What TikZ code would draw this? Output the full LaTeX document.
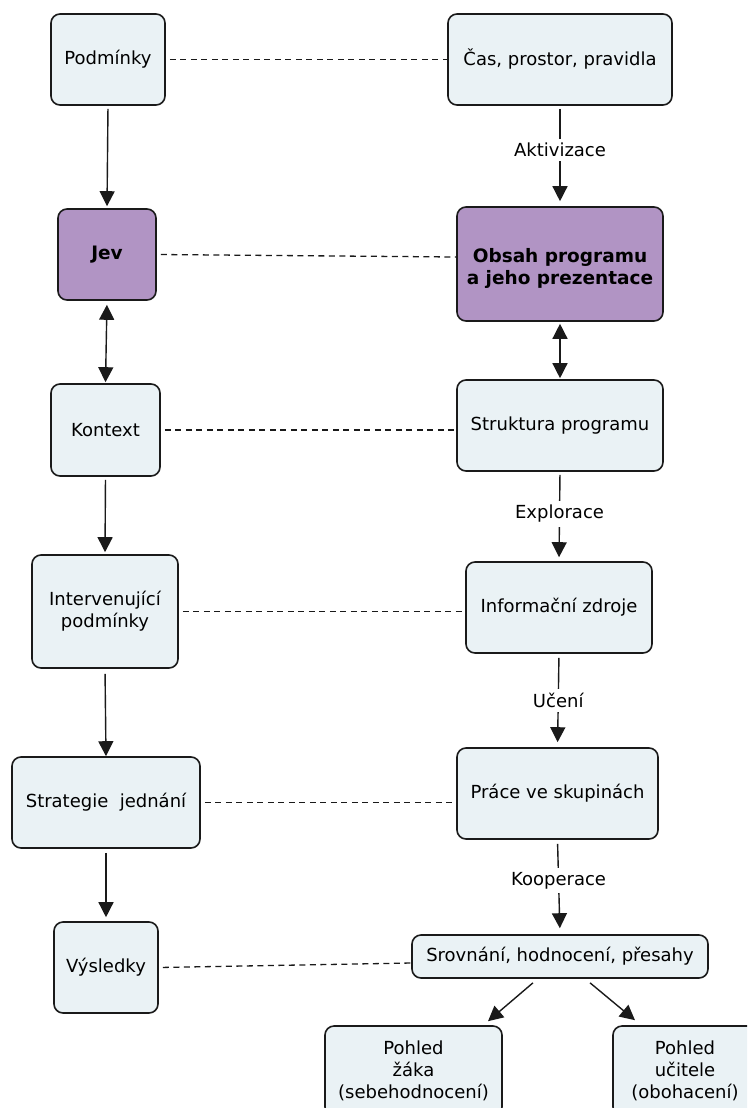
\documentclass[tikz,border=0pt]{standalone}
\usepackage{fontspec}
\setmainfont{DejaVu Sans}
\usetikzlibrary{arrows.meta}
\definecolor{boxfill}{HTML}{EAF2F5}
\definecolor{purp}{HTML}{B194C4}
\definecolor{edge}{HTML}{1A1A1A}
\tikzset{
 box/.style={draw=edge, line width=1.6pt, rounded corners=9pt, fill=boxfill, align=center, inner sep=0pt, font=\fontsize{18}{22}\selectfont},
 hot/.style={box, fill=purp, font=\fontsize{18.5}{22}\selectfont\bfseries},
 arr/.style={-{Triangle[width=15pt,length=15pt]}, line width=1.4pt, draw=edge},
 darr/.style={{Triangle[width=15pt,length=15pt]}-{Triangle[width=15pt,length=15pt]}, line width=1.4pt, draw=edge},
 dline/.style={dash pattern=on 6pt off 4.5pt, line width=1.3pt, draw=edge},
 lbl/.style={fill=white, inner sep=4pt, font=\fontsize{18}{22}\selectfont},
}
\begin{document}
\begin{tikzpicture}[x=1pt,y=-1pt]
\useasboundingbox (0,0) rectangle (747,1108);
\clip (0,0) rectangle (747,1108);
\node[box,minimum width=114pt,minimum height=91pt] (podm) at (108,59.5) {Podmínky};
\node[box,minimum width=224pt,minimum height=91pt] (cas) at (560,59.5) {Čas, prostor, pravidla};
\node[hot,minimum width=98pt,minimum height=91pt] (jev) at (107,254.5) {Jev};
\node[hot,minimum width=206pt,minimum height=114pt,
      label={[align=center,inner sep=0pt,yshift=-4pt,font=\fontsize{18.5}{22}\selectfont\bfseries]center:Obsah programu\\a jeho prezentace}] (obsah) at (560,264) {};
\node[box,minimum width=109pt,minimum height=92pt] (kont) at (105.5,430) {Kontext};
\node[box,minimum width=206pt,minimum height=91pt] (strukt) at (560,425.5) {Struktura programu};
\node[box,minimum width=146pt,minimum height=113pt] (interv) at (105,611.5) {Intervenující\\podmínky};
\node[box,minimum width=186pt,minimum height=91pt] (info) at (559,607.5) {Informační zdroje};
\node[box,minimum width=188pt,minimum height=91pt] (strat) at (106,802.5) {Strategie\ \ jednání};
\node[box,minimum width=201pt,minimum height=91pt] (prace) at (557.5,793.5) {Práce ve skupinách};
\node[box,minimum width=104pt,minimum height=91pt] (vysl) at (106,967.5) {Výsledky};
\node[box,minimum width=296pt,minimum height=43pt] (srov) at (560,956.5) {Srovnání, hodnocení, přesahy};
\node[box,minimum width=177pt,minimum height=90pt] (zak) at (413.5,1071) {Pohled\\žáka\\(sebehodnocení)};
\node[box,minimum width=144pt,minimum height=90pt] (ucit) at (685,1071) {Pohled\\učitele\\(obohacení)};

\draw[arr,shorten <=3pt,shorten >=2pt] (podm.south) -- (jev.north);
\draw[arr,shorten <=3pt,shorten >=5pt] (cas.south) -- (obsah.north) node[lbl,pos=0.44]{Aktivizace};
\draw[darr,shorten <=4pt,shorten >=1pt] (jev.south) -- (kont.north);
\draw[darr,shorten <=2pt,shorten >=1pt] (obsah.south) -- (strukt.north);
\draw[arr,shorten <=3pt,shorten >=2pt] (kont.south) -- (interv.north);
\draw[arr,shorten <=3pt,shorten >=4pt] (strukt.south) -- (info.north) node[lbl,pos=0.47]{Explorace};
\draw[arr,shorten <=5pt] (interv.south) -- (strat.north);
\draw[arr,shorten <=4pt,shorten >=5pt] (info.south) -- (prace.north) node[lbl,pos=0.5]{Učení};
\draw[arr,shorten <=4pt,shorten >=4pt] (strat.south) -- (vysl.north);
\draw[arr,shorten <=4pt,shorten >=6pt] (prace.south) -- (srov.north) node[lbl,pos=0.43]{Kooperace};
\draw[arr] ([xshift=-27pt,yshift=-4pt]srov.south) -- ([xshift=74.5pt,yshift=4pt]zak.north);
\draw[arr] ([xshift=30pt,yshift=-4pt]srov.south) -- ([xshift=-50pt,yshift=5pt]ucit.north);

\draw[dline,shorten <=4pt] (podm.east) -- (podm.east -| cas.west);
\draw[dline,shorten <=4pt] (jev.east) -- ([yshift=7pt]obsah.west);
\draw[dline,shorten <=4pt] (kont.east) -- (kont.east -| strukt.west);
\draw[dline,shorten <=4pt] (interv.east) -- (interv.east -| info.west);
\draw[dline,shorten <=4pt] (strat.east) -- (strat.east -| prace.west);
\draw[dline,shorten <=4pt] (vysl.east) -- ([yshift=-6.5pt]srov.west);
\end{tikzpicture}
\end{document}
